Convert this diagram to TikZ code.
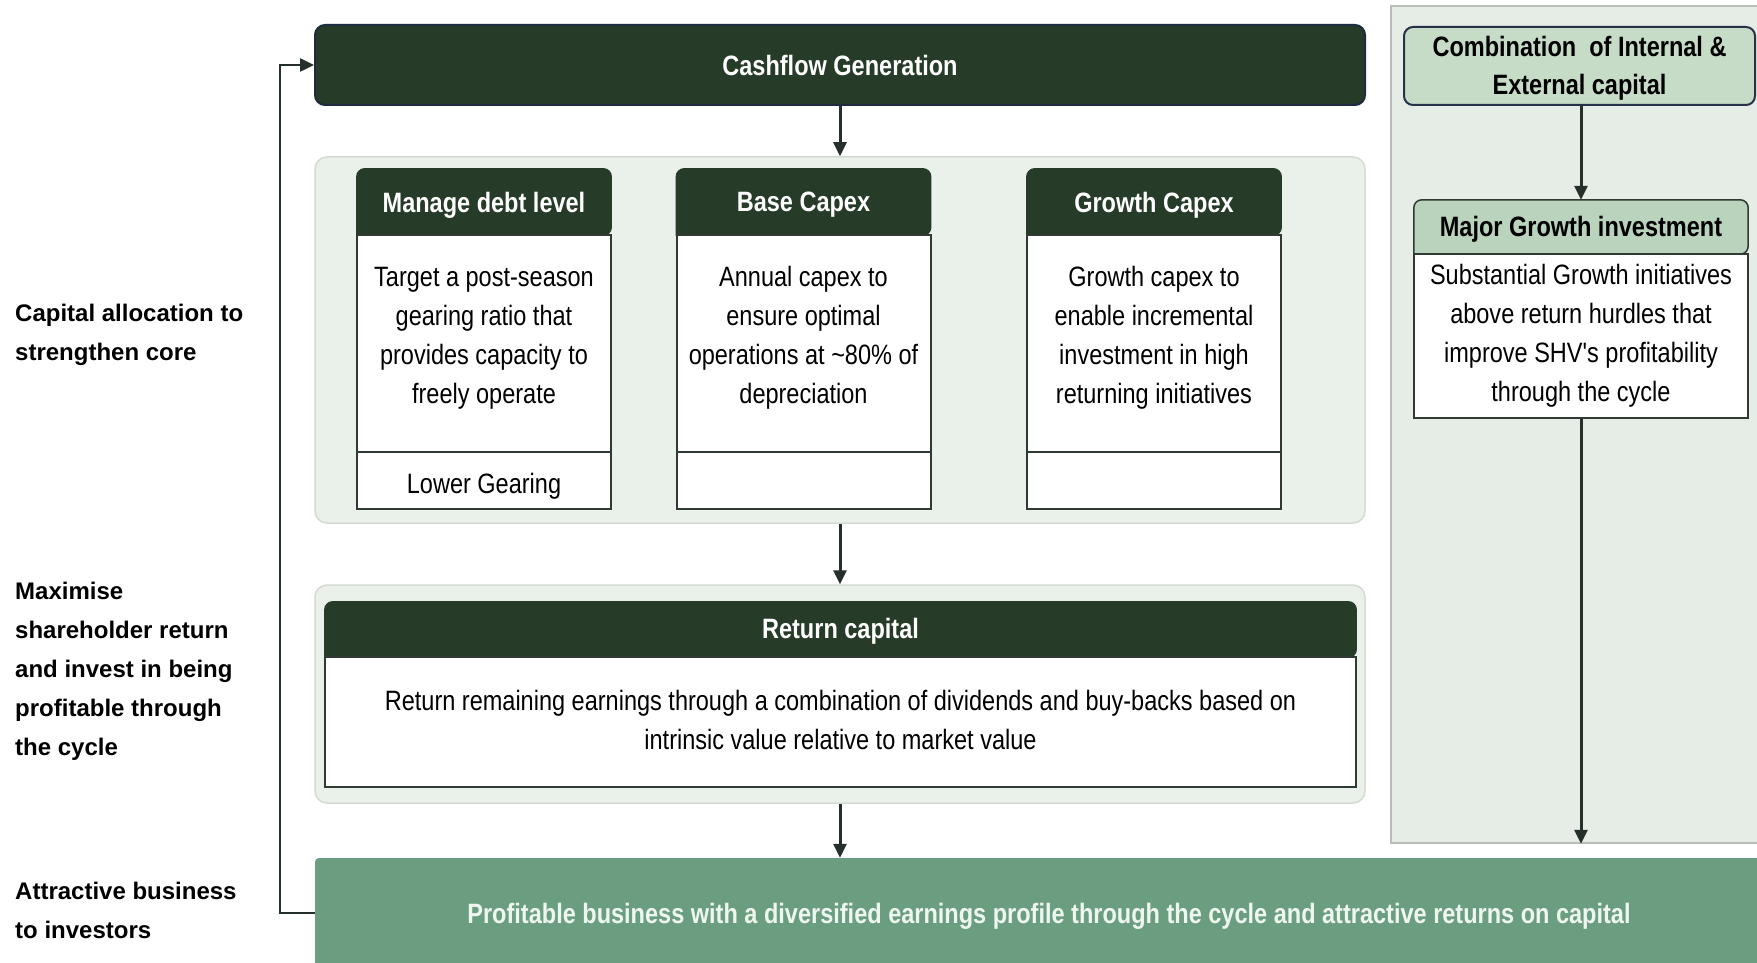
\documentclass[tikz,border=0pt]{standalone}
\usepackage{fontspec}
\setmainfont{Liberation Sans}
\newfontfamily\narrowfont[FakeStretch=0.84]{Liberation Sans}
\usetikzlibrary{arrows.meta}
\pgfdeclarelayer{back}
\pgfdeclarelayer{mid}
\pgfsetlayers{back,mid,main}
\definecolor{dkgreen}{HTML}{263B28}
\definecolor{cashborder}{HTML}{1F2B40}
\definecolor{boxline}{HTML}{2F3A33}
\definecolor{panelfill}{HTML}{EAF0EA}
\definecolor{panelline}{HTML}{D3DBD3}
\definecolor{rpfill}{HTML}{E6ECE6}
\definecolor{rpline}{HTML}{B8BEB8}
\definecolor{combfill}{HTML}{C6DCC7}
\definecolor{combline}{HTML}{27324A}
\definecolor{majfill}{HTML}{B9D3BC}
\definecolor{greenbar}{HTML}{6B9E80}
\definecolor{arrowc}{HTML}{26302A}
\definecolor{bartext}{HTML}{EEF7EF}
\newcommand\hdrshape[3]{%
  \path[fill=#2, draw=#3, line width=1.5pt, rounded corners=8pt]
    (#1.south west) |- (#1.north) -| (#1.south east) [sharp corners] -- cycle;}
\tikzset{
  panel/.style={draw=panelline, fill=panelfill, line width=1.5pt, rounded corners=12pt, inner sep=0pt},
  hdr/.style={inner sep=0pt, text=white, font=\narrowfont\bfseries\fontsize{28}{34}\selectfont},
  bodybox/.style={draw=boxline, fill=white, line width=2pt, inner sep=0pt, align=center,
    font=\narrowfont\fontsize{28}{39}\selectfont},
  bodytext/.style={inner sep=0pt, align=center, font=\narrowfont\fontsize{28}{39}\selectfont},
  arr/.style={draw=arrowc, line width=3pt, -{Triangle[width=13pt,length=14pt]}},
  lbl/.style={anchor=west, align=left, inner sep=0pt, font=\bfseries\fontsize{24}{39}\selectfont},
}
\begin{document}
\begin{tikzpicture}[x=1pt,y=-1pt]
\useasboundingbox (0,0) rectangle (1757,963);
\begin{pgfonlayer}{back}
  \fill[white] (0,0) rectangle (1757,963);
  \node[panel, minimum width=1050pt, minimum height=366pt] (p1) at (840,340) {};
  \node[panel, minimum width=1050pt, minimum height=218pt] (p2) at (840,694) {};
  \node[draw=rpline, fill=rpfill, line width=1.5pt, inner sep=0pt,
        minimum width=380pt, minimum height=837pt] (rp) at (1581,424.5) {};
\end{pgfonlayer}

% Cashflow generation
\node[fill=dkgreen, draw=cashborder, line width=2pt, rounded corners=10pt,
      minimum width=1050pt, minimum height=80pt, inner sep=0pt,
      text=white, font=\narrowfont\bfseries\fontsize{28}{34}\selectfont] (cash) at (840,65) {Cashflow Generation};

% three boxes
\node[minimum width=254pt, minimum height=66pt, inner sep=0pt] (h1) at (484,202) {};
\node[minimum width=254pt, minimum height=66pt, inner sep=0pt] (h2) at (803.5,202) {};
\node[minimum width=254pt, minimum height=66pt, inner sep=0pt] (h3) at (1154,202) {};
\begin{pgfonlayer}{mid}
  \hdrshape{h1}{dkgreen}{dkgreen}
  \hdrshape{h2}{dkgreen}{dkgreen}
  \hdrshape{h3}{dkgreen}{dkgreen}
\end{pgfonlayer}
\node[hdr] (ht1) at (484,205) {Manage debt level};
\node[hdr] (ht2) at (803.5,205) {Base Capex};
\node[hdr] (ht3) at (1154,205) {Growth Capex};
\node[bodybox, minimum width=254pt, minimum height=217pt] (b1) at (484,343.5) {};
\node[bodybox, minimum width=254pt, minimum height=217pt] (b2) at (803.5,343.5) {};
\node[bodybox, minimum width=254pt, minimum height=217pt] (b3) at (1154,343.5) {};
\node[bodytext] (t1) at (484,338)
  {Target a post-season\\gearing ratio that\\provides capacity to\\freely operate};
\node[bodytext] (t2) at (803.5,338)
  {Annual capex to\\ensure optimal\\operations at \textasciitilde80\% of\\depreciation};
\node[bodytext] (t3) at (1154,338)
  {Growth capex to\\enable incremental\\investment in high\\returning initiatives};
\node[bodybox, minimum width=254pt, minimum height=57pt] (f1) at (484,480.5) {};
\node[bodybox, minimum width=254pt, minimum height=57pt] (f2) at (803.5,480.5) {};
\node[bodybox, minimum width=254pt, minimum height=57pt] (f3) at (1154,480.5) {};
\node[bodytext] (ft1) at (484,486) {Lower Gearing};

% Return capital
\node[minimum width=1031pt, minimum height=55pt, inner sep=0pt] (rh) at (840.5,629.5) {};
\begin{pgfonlayer}{mid}
  \hdrshape{rh}{dkgreen}{dkgreen}
\end{pgfonlayer}
\node[hdr] (rht) at (840.5,631.5) {Return capital};
\node[bodybox, minimum width=1031pt, minimum height=130pt] (rb) at (840.5,722) {};
\node[bodytext] (rt) at (840.5,720)
  {Return remaining earnings through a combination of dividends and buy-backs based on\\intrinsic value relative to market value};

% Right column
\node[fill=combfill, draw=combline, line width=2pt, rounded corners=9pt,
      minimum width=351pt, minimum height=78pt, inner sep=0pt] (comb) at (1579.5,66) {};
\node[inner sep=0pt, align=center, font=\narrowfont\bfseries\fontsize{28}{38}\selectfont] (combt) at (1579.5,68)
  {Combination\ \ of Internal \&\\External capital};
\node[minimum width=334pt, minimum height=54pt, inner sep=0pt] (mh) at (1581,227) {};
\begin{pgfonlayer}{mid}
  \hdrshape{mh}{majfill}{boxline}
\end{pgfonlayer}
\node[hdr, text=black] (mht) at (1581,229) {Major Growth investment};
\node[bodybox, minimum width=334pt, minimum height=164pt] (mb) at (1581,336)
  {Substantial Growth initiatives\\above return hurdles that\\improve SHV's profitability\\through the cycle};

% Bottom bar
\node[fill=greenbar, rounded corners=4pt, minimum width=1468pt, minimum height=110pt, inner sep=0pt] (gb) at (1049,913) {};
\node[inner sep=0pt, text=bartext, font=\narrowfont\bfseries\fontsize{28}{34}\selectfont] (gbt) at (1049,916)
  {Profitable business with a diversified earnings profile through the cycle and attractive returns on capital};

% Left labels
\node[lbl] (l1) at (15,335) {Capital allocation to\\strengthen core};
\node[lbl] (l2) at (15,671) {Maximise\\shareholder return\\and invest in being\\profitable through\\the cycle};
\node[lbl] (l3) at (15,910) {Attractive business\\to investors};

% Connectors
\draw[arr] (cash.south) -- (p1.north);
\draw[arr] (p1.south) -- (p2.north);
\draw[arr] (p2.south) -- (p2.south |- gb.north);
\draw[arr] (comb.south -| mh.north) -- (mh.north);
\draw[arr] (mb.south) -- (mb.south |- rp.south);
\coordinate (loopx) at (280,0);
\draw[arr, line width=2.5pt] (gb.west |- 0,913) -- (loopx |- 0,913) -- (loopx |- cash.west) -- (cash.west);
\end{tikzpicture}
\end{document}
